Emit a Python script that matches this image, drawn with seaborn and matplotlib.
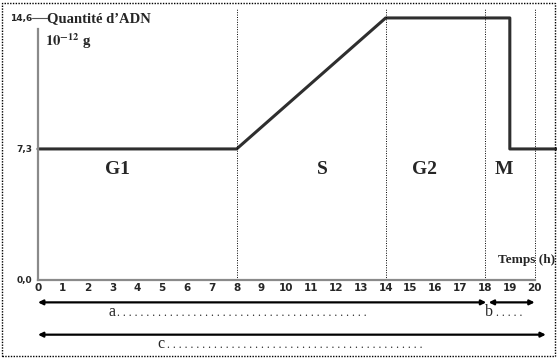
import matplotlib.pyplot as plt
import seaborn as sns
import pandas as pd
from matplotlib.patches import Rectangle

# data
temps = [0, 8, 14, 19, 19, 20.9]
adn = [7.3, 7.3, 14.6, 14.6, 7.3, 7.3]
phases = ["G1", "S", "G2", "M"]
phase_x = [3.2, 11.44, 15.55, 18.77]
bornes = [8, 14, 18, 20]
xticks = list(range(0, 21))
yticks = [0, 7.3, 14.6]
ytick_labels = ["0,0", "7,3", "14,6"]

df = pd.DataFrame({"Temps": temps, "ADN": adn})

sns.set_style("white")
plt.rcParams["mathtext.fontset"] = "stix"
serif = "Liberation Serif"

fig = plt.figure(figsize=(5.57, 3.58), dpi=100)
ax = fig.add_axes([0, 0, 1, 1])
ax.set_xlim(-1.53, 20.9)
ax.set_ylim(-4.35, 15.6)

sns.lineplot(data=df, x="Temps", y="ADN", ax=ax, color="#2e2e2e", lw=2.2,
             estimator=None, sort=False)
ax.set_xlabel("")
ax.set_ylabel("")

for b in bornes:
    ax.plot([b, b], [0, 15.15], color="black", lw=0.7, ls=(0, (1, 1.5)))

# axes drawn like the figure
for s in ["top", "right"]:
    ax.spines[s].set_visible(False)
ax.spines["left"].set_position(("data", 0))
ax.spines["bottom"].set_position(("data", 0))
ax.spines["left"].set_bounds(0, 14.0)
ax.spines["bottom"].set_bounds(0, 20)
for s in ["left", "bottom"]:
    ax.spines[s].set_color("#8a8a8a")
    ax.spines[s].set_linewidth(1.6)
    ax.spines[s].set_visible(True)

ax.set_xticks(xticks)
ax.set_xticklabels([str(t) for t in xticks], fontweight="bold", fontsize=7.5)
ax.tick_params(axis="x", direction="in", length=5, width=1, color="#8a8a8a", pad=2)
ax.set_yticks(yticks)
ax.set_yticklabels(ytick_labels, fontweight="bold", fontsize=6.5)
ax.tick_params(axis="y", direction="out", length=0, pad=4)
ax.plot([-0.25, 0.35], [14.6, 14.6], color="#555555", lw=0.8, clip_on=False)

ax.text(0.38, 14.55, "Quantité d’ADN", fontsize=10.5, fontweight="bold",
        family=serif, va="center", ha="left")
ax.text(0.28, 13.3, r"$\mathbf{10^{-12}}$ g", fontsize=10.5, fontweight="bold",
        family=serif, va="center", ha="left")
ax.text(20.84, 1.1, "Temps (h)", fontsize=9.5, fontweight="bold",
        family=serif, va="center", ha="right")

for lab, x in zip(phases, phase_x):
    ax.text(x, 6.13, lab, fontsize=14, fontweight="bold", family=serif,
            ha="center", va="center")

# arrows below the axis
arr = dict(arrowstyle="<|-|>", color="black", lw=1.6, mutation_scale=7,
           shrinkA=0, shrinkB=0)
ax.annotate("", xy=(0, -1.25), xytext=(18.05, -1.25), arrowprops=arr)
ax.annotate("", xy=(18.15, -1.25), xytext=(20.0, -1.25), arrowprops=arr)
ax.annotate("", xy=(0, -3.05), xytext=(20.45, -3.05), arrowprops=arr)

# letters followed by dotted leaders
ax.text(2.82, -1.8, "a", fontsize=11.5, family=serif, ha="left", va="center")
ax.text(3.2, -1.85, ". " * 43, fontsize=8.5, family=serif, ha="left", va="center")
ax.text(18.0, -1.8, "b", fontsize=11.5, family=serif, ha="left", va="center")
ax.text(18.45, -1.85, ". " * 5, fontsize=8.5, family=serif, ha="left", va="center")
ax.text(4.8, -3.55, "c", fontsize=11.5, family=serif, ha="left", va="center")
ax.text(5.2, -3.6, ". " * 44, fontsize=8.5, family=serif, ha="left", va="center")

# dotted frame around the figure
fig.patches.append(Rectangle((0.004, 0.006), 0.992, 0.985, transform=fig.transFigure,
                             fill=False, lw=1.0, ls=(0, (1, 1)), ec="black"))

fig.savefig("out.png", dpi=100)
